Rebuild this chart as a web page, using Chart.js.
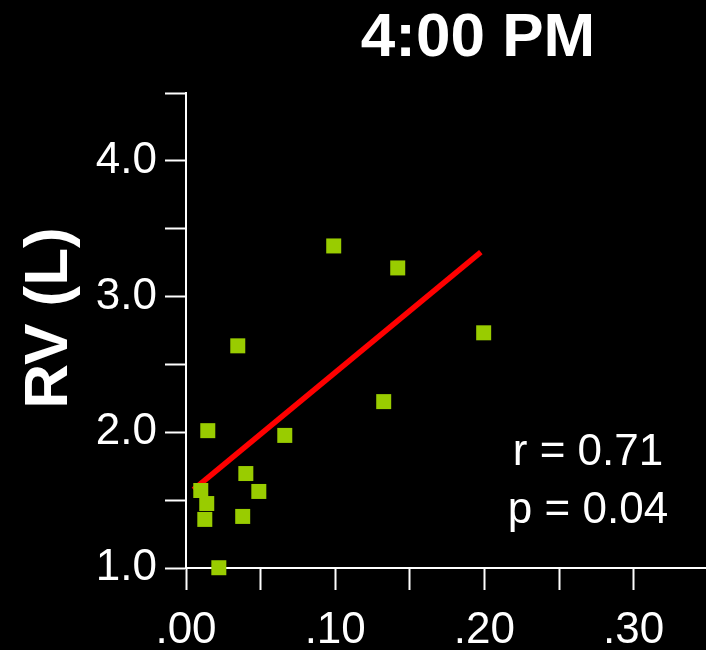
<!DOCTYPE html>
<html>
<head>
<meta charset="utf-8">
<script src="https://cdn.jsdelivr.net/npm/chart.js@4/dist/chart.umd.min.js"></script>
<style>
  html, body { margin: 0; padding: 0; background: #000; }
  #wrap { width: 706px; height: 650px; }
</style>
</head>
<body>
<div id="wrap"><canvas id="rvChart" width="706" height="650"></canvas></div>
<script>
// ── DATA ──
const xVals = [0.0099, 0.0146, 0.0139, 0.0126, 0.0220, 0.0347, 0.0401, 0.0380, 0.0488, 0.0662, 0.0990, 0.1325, 0.1419, 0.1995];
const yVals = [1.571, 2.012, 1.475, 1.358, 1.002, 2.637, 1.696, 1.380, 1.564, 1.977, 3.373, 2.226, 3.211, 2.733];
const fitX = [0.005, 0.1976];
const fitY = [1.577, 3.327];
const xTicks = [0, 0.05, 0.10, 0.15, 0.20, 0.25, 0.30];
const xLabels = ['.00', '', '.10', '', '.20', '', '.30'];
const yTicks = [1.0, 1.5, 2.0, 2.5, 3.0, 3.5, 4.0, 4.5];
const yLabels = ['1.0', '', '2.0', '', '3.0', '', '4.0', ''];
const titleText = '4:00 PM';
const yTitle = 'RV (L)';
const statLines = ['r = 0.71', 'p = 0.04'];

const FONT = '"Liberation Sans", Arial, sans-serif';

// text that sits outside the scales
const annotations = {
  id: 'annotations',
  afterDraw(chart) {
    const ctx = chart.ctx;
    ctx.save();
    ctx.fillStyle = '#fff';
    ctx.textAlign = 'center';
    ctx.textBaseline = 'alphabetic';

    ctx.font = 'bold 62px ' + FONT;
    ctx.fillText(titleText, 478, 56);

    ctx.font = '44px ' + FONT;
    ctx.fillText(statLines[0], 588, 465);
    ctx.fillText(statLines[1], 588, 523);

    ctx.translate(67, 318);
    ctx.rotate(-Math.PI / 2);
    ctx.font = 'bold 62px ' + FONT;
    ctx.fillText(yTitle, 0, 0);
    ctx.restore();
  },
};

window.addEventListener('DOMContentLoaded', () => {
  const ctx = document.getElementById('rvChart').getContext('2d');
  new Chart(ctx, {
    type: 'scatter',
    data: {
      datasets: [
        {
          label: 'RV',
          data: xVals.map((x, i) => ({ x, y: yVals[i] })),
          backgroundColor: '#99cc00',
          borderWidth: 0,
          pointStyle: 'rect',
          pointRadius: 10.6,
          pointHoverRadius: 10.6,
          clip: false,
        },
        {
          type: 'line',
          label: 'fit',
          data: fitX.map((x, i) => ({ x, y: fitY[i] })),
          borderColor: '#ff0000',
          borderWidth: 5.5,
          pointRadius: 0,
          fill: false,
        },
      ],
    },
    options: {
      responsive: false,
      animation: false,
      layout: { autoPadding: false, padding: { top: 93, left: 0, right: 0, bottom: 0 } },
      plugins: { legend: { display: false }, tooltip: { enabled: false } },
      scales: {
        x: {
          type: 'linear',
          min: 0,
          max: 0.3485,
          afterBuildTicks: axis => { axis.ticks = xTicks.map(v => ({ value: v })); },
          afterFit: axis => { axis.height = 82; axis.paddingLeft = 0; axis.paddingRight = 0; },
          border: { color: '#fff', width: 2 },
          grid: { drawOnChartArea: false, drawTicks: true, tickLength: 22, tickColor: '#fff', tickWidth: 2 },
          ticks: {
            color: '#fff',
            font: { family: FONT, size: 44 },
            padding: 14,
            maxRotation: 0,
            autoSkip: false,
            callback: (v, i) => xLabels[i],
          },
        },
        y: {
          type: 'linear',
          min: 1.0,
          max: 4.5,
          afterBuildTicks: axis => { axis.ticks = yTicks.map(v => ({ value: v })); },
          afterFit: axis => { axis.width = 186; axis.paddingTop = 0; axis.paddingBottom = 0; },
          border: { color: '#fff', width: 2 },
          grid: { drawOnChartArea: false, drawTicks: true, tickLength: 21, tickColor: '#fff', tickWidth: 2 },
          ticks: {
            color: '#fff',
            font: { family: FONT, size: 44 },
            padding: 8,
            autoSkip: false,
            callback: (v, i) => yLabels[i],
          },
        },
      },
    },
    plugins: [annotations],
  });
});
</script>
</body>
</html>
